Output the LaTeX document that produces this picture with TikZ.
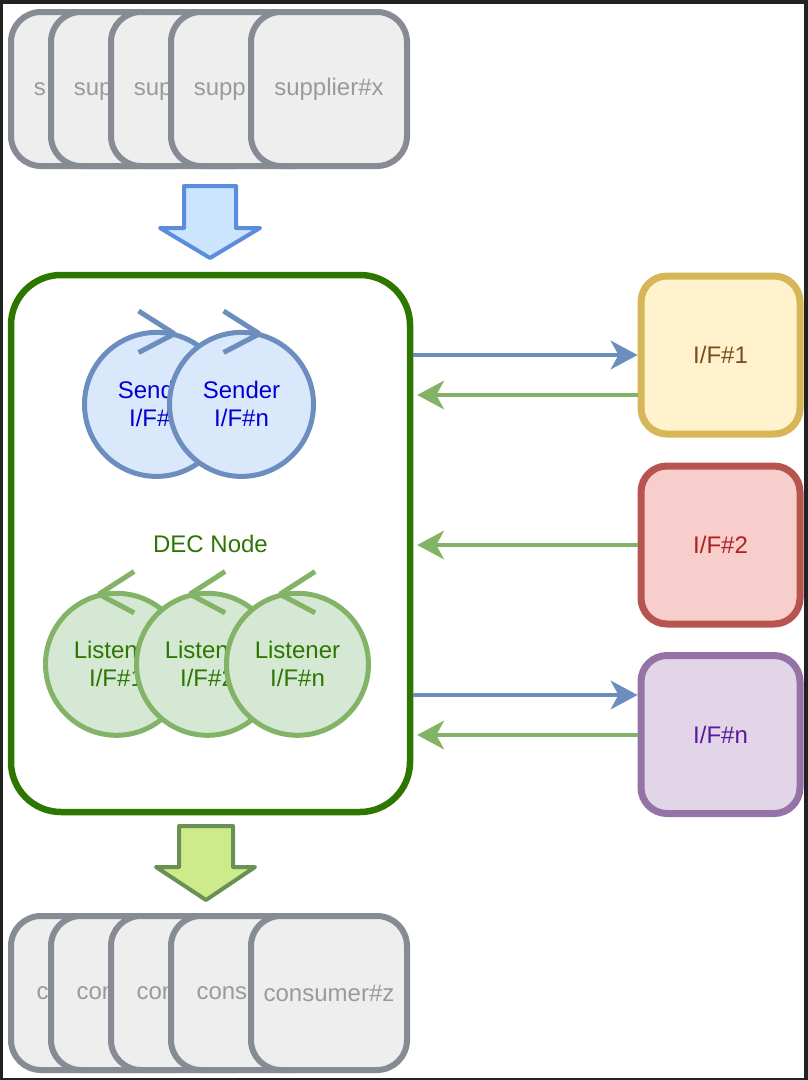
\documentclass[tikz,border=0pt]{standalone}
\usepackage{fontspec}
\setmainfont{Liberation Sans}
\usetikzlibrary{arrows.meta}
\definecolor{framec}{HTML}{222222}
\definecolor{grstroke}{HTML}{868B94}
\definecolor{grfill}{HTML}{EEEEEE}
\definecolor{grtext}{HTML}{9A9A9A}
\definecolor{decstroke}{HTML}{2D7600}
\definecolor{sfill}{HTML}{DAE8FC}
\definecolor{sstroke}{HTML}{6C8EBF}
\definecolor{stext}{HTML}{0000CC}
\definecolor{lfill}{HTML}{D5E8D4}
\definecolor{lstroke}{HTML}{82B366}
\definecolor{ltext}{HTML}{2D7600}
\definecolor{yfill}{HTML}{FFF2CC}
\definecolor{ystroke}{HTML}{D6B656}
\definecolor{ytext}{HTML}{7A4E1E}
\definecolor{rfill}{HTML}{F8CECC}
\definecolor{rstroke}{HTML}{B85450}
\definecolor{rtext}{HTML}{B02020}
\definecolor{pfill}{HTML}{E1D5E7}
\definecolor{pstroke}{HTML}{9673A6}
\definecolor{ptext}{HTML}{5A1A9E}
\definecolor{bafill}{HTML}{CCE5FF}
\definecolor{bastroke}{HTML}{5A8EDC}
\definecolor{gafill}{HTML}{CDEB8B}
\definecolor{gastroke}{HTML}{6A9153}
\tikzset{
  txt/.style={font=\fontsize{24}{28}\selectfont, align=center, inner sep=0pt},
  grbox/.style={txt, draw=grstroke, fill=grfill, line width=6pt, rounded corners=30pt,
    minimum width=156pt, minimum height=154pt, text=grtext},
  grtxt/.style={txt, text=grtext, anchor=west},
  decbox/.style={txt, draw=decstroke, fill=white, line width=6.5pt, rounded corners=50pt,
    minimum width=399pt, minimum height=537pt, text=ltext},
  ifbox/.style={txt, line width=7pt, rounded corners=26pt, minimum width=159pt, minimum height=158pt},
  sendc/.style={txt, circle, draw=sstroke, fill=sfill, line width=5pt, minimum size=144pt, text=stext},
  lisc/.style={txt, circle, draw=lstroke, fill=lfill, line width=5pt, minimum size=142pt, text=ltext},
  sendl/.style={draw=sstroke, line width=5pt, line join=round},
  lisl/.style={draw=lstroke, line width=5pt, line join=round},
  tipx/.style={-{Stealth[length=27pt,width=29pt,inset=8pt,line width=1pt]}},
  bluearr/.style={tipx, draw=sstroke, fill=sstroke, line width=4.5pt},
  greenarr/.style={tipx, draw=lstroke, fill=lstroke, line width=4.5pt, shorten >=4pt},
  bigarrow/.style={line width=4pt, line join=round}
}
\begin{document}
\begin{tikzpicture}[x=1pt,y=-1pt]
\fill[framec] (0,0) rectangle (808,1080);
\fill[white] (3,4) rectangle (804,1078);
\useasboundingbox (0,0) rectangle (808,1080);

% suppliers (stacked; later boxes hide the earlier labels)
\node[grbox] (sup1) at (89,89) {};
\node[grtxt] (sup1t) at (33.6,89) {\vphantom{lp}s};
\node[grbox] (sup2) at (129,89) {};
\node[grtxt] (sup2t) at (73.6,89) {\vphantom{lp}sup};
\node[grbox] (sup3) at (189,89) {};
\node[grtxt] (sup3t) at (133.6,89) {\vphantom{lp}sup};
\node[grbox] (sup4) at (249,89) {};
\node[grtxt] (sup4t) at (193.6,89) {\vphantom{lp}supp};
\node[grbox] (supx) at (329,89) {supplier\#x};

% blue down arrow
\draw[bigarrow, draw=bastroke, fill=bafill] (184,186) -- (236,186) -- (236,228) -- (260,228) -- (210,258) -- (160,228) -- (184,228) -- cycle;

% DEC node
\node[decbox] (dec) at (210.5,543.5) {DEC Node};

% senders
\draw[sendl] (138.6,311) -- (174.4,333.8);
\node[sendc] (snd1) at (156.5,404.4) {Sender\\I/F\#1};
\draw[sendl] (174.4,333.8) -- (138.6,352.5);
\draw[sendl] (223.6,311) -- (259.4,333.8);
\node[sendc] (sndn) at (241.5,404.4) {Sender\\I/F\#n};
\draw[sendl] (259.4,333.8) -- (223.6,352.5);

% listeners
\draw[lisl] (134.1,571.5) -- (98.9,594.2);
\node[lisc] (lis1) at (116.5,664.3) {Listener\\I/F\#1};
\draw[lisl] (98.9,594.2) -- (134.1,612.8);
\draw[lisl] (225.1,571.5) -- (189.9,594.2);
\node[lisc] (lis2) at (207.5,664.3) {Listener\\I/F\#2};
\draw[lisl] (189.9,594.2) -- (225.1,612.8);
\draw[lisl] (315.1,571.5) -- (279.9,594.2);
\node[lisc] (lisn) at (297.5,664.3) {Listener\\I/F\#n};
\draw[lisl] (279.9,594.2) -- (315.1,612.8);

% interfaces
\node[ifbox, draw=ystroke, fill=yfill, text=ytext] (if1) at (720.5,355) {I/F\#1};
\node[ifbox, draw=rstroke, fill=rfill, text=rtext] (if2) at (720.5,545) {I/F\#2};
\node[ifbox, draw=pstroke, fill=pfill, text=ptext] (ifn) at (720.5,734.5) {I/F\#n};

% connectors
\draw[bluearr] (dec.east |- 0,355) -- (if1.west |- 0,355);
\draw[greenarr] (if1.west |- 0,395) -- (dec.east |- 0,395);
\draw[greenarr] (if2.west |- 0,545) -- (dec.east |- 0,545);
\draw[bluearr] (dec.east |- 0,695) -- (ifn.west |- 0,695);
\draw[greenarr] (ifn.west |- 0,735) -- (dec.east |- 0,735);

% green down arrow
\draw[bigarrow, draw=gastroke, fill=gafill] (179,826) -- (233,826) -- (233,867) -- (255,867) -- (206,900) -- (156,867) -- (179,867) -- cycle;

% consumers (stacked)
\node[grbox] (con1) at (89,993) {};
\node[grtxt] (con1t) at (36.3,993) {\vphantom{lp}c};
\node[grbox] (con2) at (129,993) {};
\node[grtxt] (con2t) at (76.3,993) {\vphantom{lp}con};
\node[grbox] (con3) at (189,993) {};
\node[grtxt] (con3t) at (136.3,993) {\vphantom{lp}con};
\node[grbox] (con4) at (249,993) {};
\node[grtxt] (con4t) at (196.3,993) {\vphantom{lp}cons};
\node[grbox] (conz) at (329,993) {consumer\#z};
\end{tikzpicture}
\end{document}
